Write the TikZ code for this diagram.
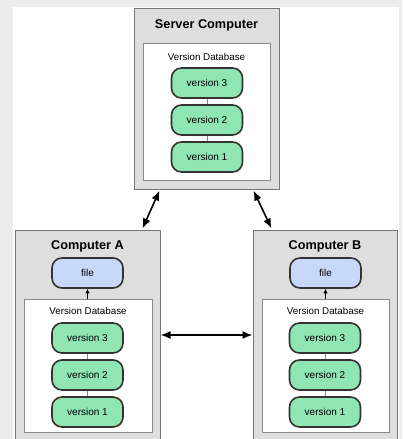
\documentclass[tikz,border=0pt]{standalone}
\usepackage{fontspec}
\setmainfont{Liberation Sans}
\usetikzlibrary{arrows.meta,calc}
\definecolor{framegray}{HTML}{ECECEC}
\definecolor{boxgray}{HTML}{DEDEDE}
\definecolor{boxline}{HTML}{767676}
\definecolor{dbline}{HTML}{8A8A8A}
\definecolor{vgreen}{HTML}{8FE6B2}
\definecolor{fblue}{HTML}{C8D8FA}
\definecolor{nodeline}{HTML}{333333}
\tikzset{
  computer/.style={draw=boxline, fill=boxgray, line width=1pt, inner sep=0pt},
  database/.style={draw=dbline, fill=white, line width=0.8pt, inner sep=0pt},
  title/.style={font=\bfseries\fontsize{12.7}{14}\selectfont, inner sep=0pt},
  dblabel/.style={font=\fontsize{9.8}{11}\selectfont, inner sep=0pt},
  vnode/.style={draw=nodeline, fill=vgreen, line width=1.6pt, rounded corners=10pt,
    minimum width=71pt, minimum height=30pt, inner sep=0pt, font=\fontsize{10}{11}\selectfont},
  fnode/.style={vnode, fill=fblue},
  link/.style={draw=dbline, line width=0.8pt},
  sync/.style={line width=1.6pt, {Latex[length=10pt,width=8pt]}-{Latex[length=10pt,width=8pt]}},
  pull/.style={line width=0.8pt, -{Latex[length=4.5pt,width=4.5pt]}}
}
\begin{document}
\begin{tikzpicture}[x=1pt,y=-1pt]
\useasboundingbox (0,0) rectangle (402,439);
\clip (0,0) rectangle (402,439);
\fill[framegray] (0,0) rectangle (402,439);
\fill[white] (13,7) rectangle (399,439);

% Server
\node[computer, minimum width=145pt, minimum height=181pt] (server) at (206.5,98.5) {};
\node[title] (stitle) at (206.5,25) {Server Computer};
\node[database, minimum width=127pt, minimum height=137pt] (sdb) at (206.5,111.5) {};
\node[dblabel] (slabel) at (206.5,57) {Version Database};
\node[vnode] (sv3) at (207,83) {version 3};
\node[vnode] (sv2) at (207,120) {version 2};
\node[vnode] (sv1) at (207,157) {version 1};
\draw[link] (sv3) -- (sv2);
\draw[link] (sv2) -- (sv1);

% Computer A
\node[computer, minimum width=145pt, minimum height=230pt] (ca) at (87.5,345) {};
\node[title] (atitle) at (87.5,246) {Computer A};
\node[fnode] (afile) at (87.5,273) {file};
\node[database, minimum width=128pt, minimum height=133pt] (adb) at (88,365.5) {};
\node[dblabel] (alabel) at (88,311) {Version Database};
\node[vnode] (av3) at (87.5,338) {version 3};
\node[vnode] (av2) at (87.5,375) {version 2};
\node[vnode] (av1) at (87.5,412) {version 1};
\draw[link] (av3) -- (av2);
\draw[link] (av2) -- (av1);
\draw[pull] (adb.north -| afile) -- (afile.south);

% Computer B
\node[computer, minimum width=144pt, minimum height=230pt] (cb) at (325,345) {};
\node[title] (btitle) at (325,246) {Computer B};
\node[fnode] (bfile) at (325.5,273) {file};
\node[database, minimum width=127pt, minimum height=133pt] (bdb) at (325.5,365.5) {};
\node[dblabel] (blabel) at (325.5,311) {Version Database};
\node[vnode] (bv3) at (325,338) {version 3};
\node[vnode] (bv2) at (325,375) {version 2};
\node[vnode] (bv1) at (325,412) {version 1};
\draw[link] (bv3) -- (bv2);
\draw[link] (bv2) -- (bv1);
\draw[pull] (bdb.north -| bfile) -- (bfile.south);

% sync arrows
\coordinate (hl) at (200,335);
\draw[sync] ($(server.south west)+(26,1)$) -- ($(ca.north east)+(-18,-1)$);
\draw[sync] ($(server.south east)+(-26,1)$) -- ($(cb.north west)+(19,-1)$);
\draw[sync] (ca.east |- hl) -- (cb.west |- hl);
\end{tikzpicture}
\end{document}
